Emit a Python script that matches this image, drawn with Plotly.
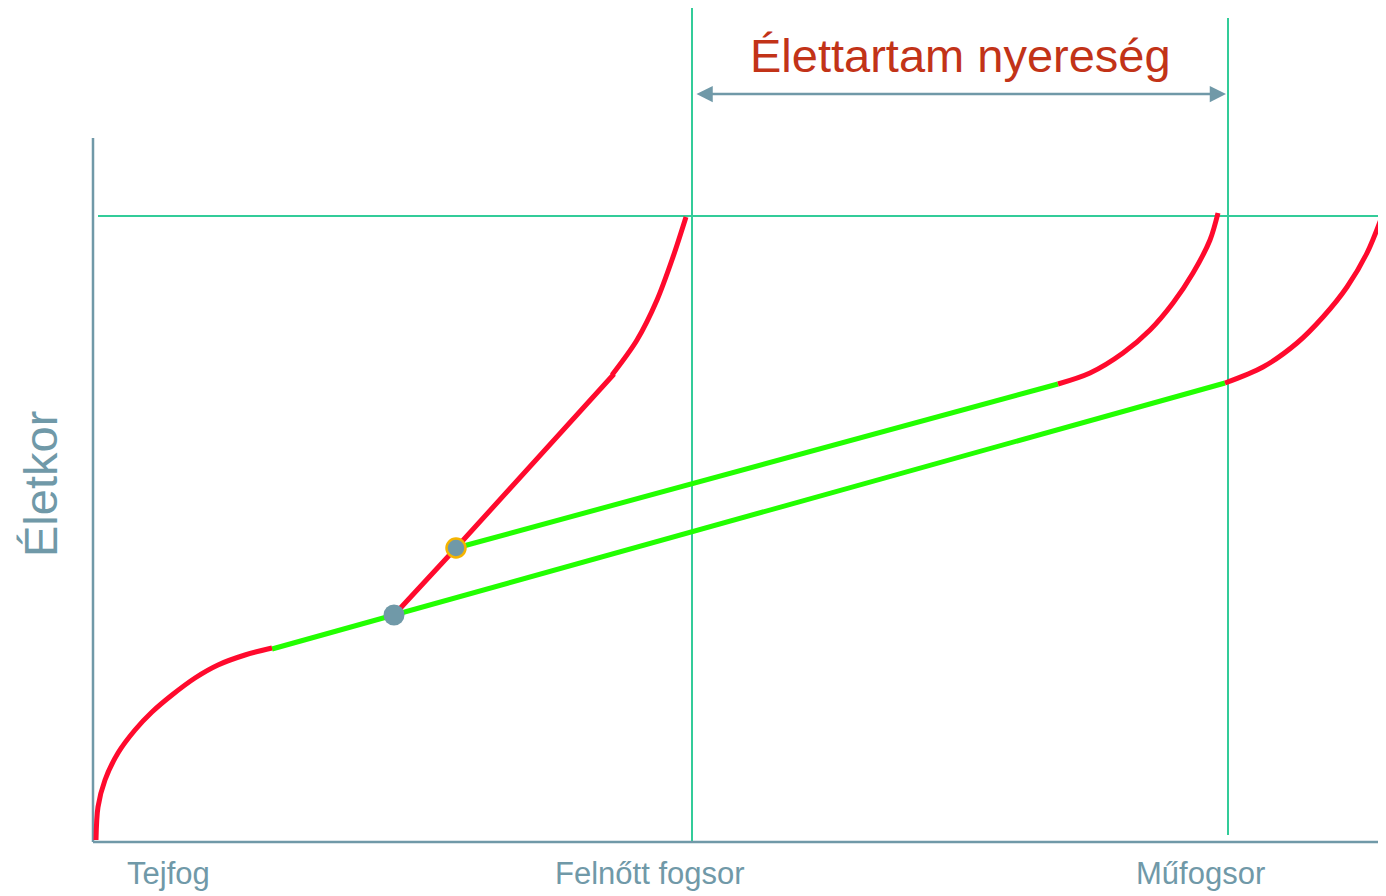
import plotly.graph_objects as go

# ---- data (diagram units: x to the right, y downward as in the picture) ----
W, H = 1386, 896
PAGE_OFFSET = 8  # default body margin of the html page

# red curves / segments
tejfog_x = [96, 98, 105, 118, 135, 152, 172, 195, 218, 245, 272]
tejfog_y = [840, 807, 780, 753, 730, 712, 695, 678, 665, 655, 648]

adult_fail_x = [394, 456, 614]
adult_fail_y = [615, 548, 374]

adult_end_x = [612, 637, 657, 673, 686]
adult_end_y = [375, 340, 300, 257, 217]

mid_end_x = [1058, 1090, 1123, 1150, 1173, 1193, 1210, 1218]
mid_end_y = [384, 373, 353, 330, 303, 273, 240, 213]

late_end_x = [1225, 1263, 1297, 1323, 1347, 1367, 1384]
late_end_y = [383, 367, 343, 317, 287, 253, 211]

# green segments (healthy adult dentition)
green_low_x = [272, 1225]
green_low_y = [649, 383]
green_high_x = [456, 1058]
green_high_y = [548, 384]

# events
dot_x = [394, 456]
dot_y = [615, 548]

# reference lines
axis_x0, axis_y0 = 93, 842
y_axis_top = 138
h_ref_y = 216
v_ref1_x, v_ref2_x = 692, 1228
gain_y = 94

tick_labels = ["Tejfog", "Felnőtt fogsor", "Műfogsor"]
tick_x = [168, 650, 1200]
tick_y = 873
title_text = "Élettartam nyereség"
ylabel_text = "Életkor"

RED = "#FF0A2D"
GREEN = "#22FF00"
TEAL = "#33CC99"
SLATE = "#7099A8"
TITLE_C = "#C23318"
FONT = "Liberation Sans, Arial, sans-serif"

fig = go.Figure()

def line(x, y, color, width, shape="spline"):
    fig.add_trace(go.Scatter(x=x, y=y, mode="lines",
                             line=dict(color=color, width=width, shape=shape, smoothing=0.9),
                             hoverinfo="skip", showlegend=False))

# reference lines (teal)
line([98, W], [h_ref_y, h_ref_y], TEAL, 2, "linear")
line([v_ref1_x, v_ref1_x], [8, axis_y0], TEAL, 2, "linear")
line([v_ref2_x, v_ref2_x], [18, 835], TEAL, 2, "linear")

# axes
line([axis_x0, axis_x0], [y_axis_top, axis_y0], SLATE, 2.5, "linear")
line([axis_x0, W], [axis_y0, axis_y0], SLATE, 2.5, "linear")

# green
line(green_low_x, green_low_y, GREEN, 5, "linear")
line(green_high_x, green_high_y, GREEN, 5, "linear")

# red
line(tejfog_x, tejfog_y, RED, 5)
line(adult_fail_x, adult_fail_y, RED, 5, "linear")
line(adult_end_x, adult_end_y, RED, 5)
line(mid_end_x, mid_end_y, RED, 5)
line(late_end_x, late_end_y, RED, 5)

# dots
fig.add_trace(go.Scatter(x=dot_x[:1], y=dot_y[:1], mode="markers",
                         marker=dict(size=21, color=SLATE, line=dict(width=0)),
                         hoverinfo="skip", showlegend=False))
fig.add_trace(go.Scatter(x=dot_x[1:], y=dot_y[1:], mode="markers",
                         marker=dict(size=19, color=SLATE, line=dict(width=2.5, color="#F5B400")),
                         hoverinfo="skip", showlegend=False))

# double arrow
fig.add_annotation(x=v_ref2_x - 2, y=gain_y, ax=v_ref1_x + 3, ay=gain_y,
                   xref="x", yref="y", axref="x", ayref="y", text="",
                   showarrow=True, arrowhead=2, startarrowhead=2, arrowside="end+start",
                   arrowsize=1.3, startarrowsize=1.3, arrowwidth=2.5, arrowcolor=SLATE)

fig.add_annotation(x=960, y=55, text=title_text, showarrow=False,
                   font=dict(family=FONT, size=47, color=TITLE_C), xref="x", yref="y")
fig.add_annotation(x=40, y=484, text=ylabel_text, showarrow=False, textangle=-90,
                   font=dict(family=FONT, size=47, color=SLATE), xref="x", yref="y")
for lbl, tx in zip(tick_labels, tick_x):
    fig.add_annotation(x=tx, y=tick_y, text=lbl, showarrow=False,
                       font=dict(family=FONT, size=31, color=SLATE), xref="x", yref="y")

fig.update_layout(width=W - PAGE_OFFSET, height=H - PAGE_OFFSET,
                  margin=dict(l=0, r=0, t=0, b=0),
                  plot_bgcolor="white", paper_bgcolor="white",
                  xaxis=dict(range=[PAGE_OFFSET, W], visible=False, fixedrange=True),
                  yaxis=dict(range=[H, PAGE_OFFSET], visible=False, fixedrange=True))

fig.write_html("out.html")
